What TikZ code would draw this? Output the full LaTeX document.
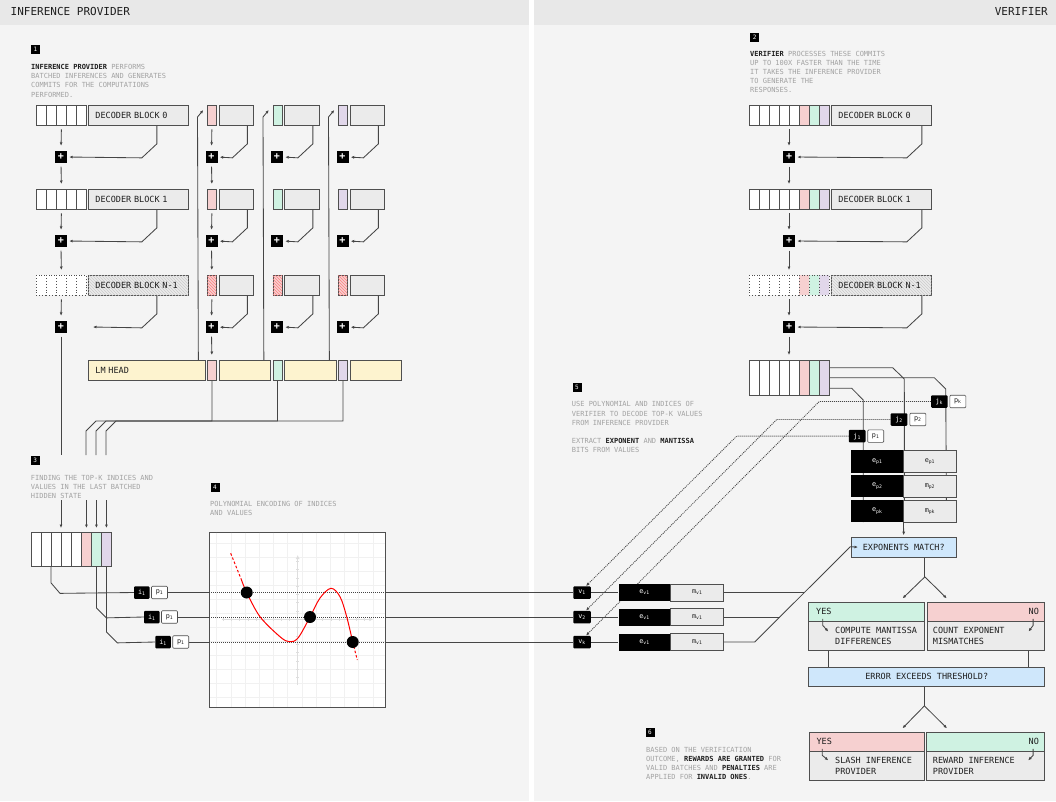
\documentclass[tikz,border=0pt]{standalone}
\usepackage{fontspec}
\setmainfont{DejaVu Sans Mono}
\usetikzlibrary{arrows.meta,positioning,patterns,calc}

\definecolor{bgc}{HTML}{F4F4F4}
\definecolor{hdrc}{HTML}{E8E8E8}
\definecolor{greyf}{HTML}{EBEBEB}
\definecolor{boxc}{HTML}{4F4F4F}
\definecolor{linec}{HTML}{454545}
\definecolor{redf}{HTML}{F6D0D0}
\definecolor{grnf}{HTML}{CFF2E2}
\definecolor{purf}{HTML}{E1D7EA}
\definecolor{yelf}{HTML}{FDF3CF}
\definecolor{bluf}{HTML}{CFE7FB}
\definecolor{txtg}{HTML}{A2A2A2}
\definecolor{txtd}{HTML}{1E1E1E}
\definecolor{gridc}{HTML}{F1F1F1}
\definecolor{axc}{HTML}{DEDEDE}

\newcommand{\lblf}{\fontsize{8.5}{10.3}\selectfont}
\newcommand{\notef}{\fontsize{7}{9.2}\selectfont}
\newcommand{\tagf}{\fontsize{6.8}{7}\selectfont}
\newcommand{\dark}[1]{\textcolor{txtd}{\textbf{#1}}}

\pgfdeclarelayer{back}
\pgfdeclarelayer{bg}
\pgfsetlayers{back,bg,main}

\tikzset{
  line/.style={draw=linec, line width=0.85pt},
  arr/.style={line, -{Latex[length=3.5pt,width=3pt]}},
  varr/.style={arr, shorten <=3.5pt, shorten >=5pt},
  darr/.style={arr, dash pattern=on 1pt off 1pt},
  cell/.style={draw=boxc, line width=0.85pt, fill=white, minimum width=10pt, minimum height=20pt, inner sep=0pt, anchor=north west},
  ccell/.style={cell, minimum width=9pt},
  gcell/.style={cell, fill=greyf, minimum width=34.5pt},
  dec/.style={draw=boxc, line width=0.85pt, fill=greyf, text width=86pt, inner xsep=7pt, inner ysep=0pt, minimum height=20pt, align=left, anchor=north west, font=\lblf, text=txtd},
  hatch/.style={postaction={pattern=north west lines, pattern color=#1}},
  plusbox/.style={fill=black, text=white, minimum size=12pt, inner sep=0pt, font=\bfseries\fontsize{10}{10}\selectfont},
  stepno/.style={fill=black, text=white, minimum size=9pt, inner sep=0pt, font=\fontsize{6}{6}\selectfont},
  note/.style={anchor=north west, inner sep=0pt, align=left, text=txtg, font=\notef},
  kbox/.style={fill=black, text=white, rounded corners=1pt, minimum width=15.5pt, minimum height=12.5pt, inner sep=0pt, font=\tagf},
  wbox/.style={draw=boxc, line width=0.6pt, fill=white, rounded corners=1pt, minimum width=16pt, minimum height=12.5pt, inner sep=0pt, font=\tagf, text=txtd},
  ebox/.style={fill=black, text=white, minimum width=52pt, minimum height=17pt, inner sep=0pt, font=\tagf, anchor=north west},
  mbox/.style={draw=boxc, line width=0.85pt, fill=greyf, text=txtd, minimum width=53pt, minimum height=17pt, inner sep=0pt, font=\tagf, anchor=north west},
  qbox/.style={draw=boxc, line width=0.85pt, fill=bluf, text=txtd, minimum height=20pt, inner sep=0pt, font=\lblf, anchor=north west},
  hbox/.style={draw=boxc, line width=0.85pt, minimum height=19.3pt, inner sep=0pt, anchor=north west},
  bbox/.style={draw=boxc, line width=0.85pt, fill=greyf, minimum height=29pt, inner sep=0pt, anchor=north west},
  btxt/.style={anchor=west, inner sep=0pt, align=left, font=\lblf, text=txtd},
  htxt/.style={inner sep=0pt, font=\lblf, text=txtd},
  dot/.style={circle, fill=black, minimum size=12pt, inner sep=0pt},
}

\begin{document}
\begin{tikzpicture}[x=1pt,y=-1pt]
\useasboundingbox (0,0) rectangle (1056,801);

% panels
\begin{pgfonlayer}{back}
\fill[white] (0,0) rectangle (1056,801);
\fill[bgc] (0,0) rectangle (529,801);
\fill[bgc] (534,0) rectangle (1056,801);
\fill[hdrc] (0,0) rectangle (529,25);
\fill[hdrc] (534,0) rectangle (1056,25);
\end{pgfonlayer}
\node[anchor=west, inner sep=0pt, font=\fontsize{11}{12}\selectfont, text=txtd] (hdrL) at (10.5,11) {INFERENCE PROVIDER};
\node[anchor=east, inner sep=0pt, font=\fontsize{11}{12}\selectfont, text=txtd] (hdrR) at (1048,11) {VERIFIER};

%%%%%%%%%%%%%%%% inference provider
\node[stepno] (s1) at (35.5,49.5) {1};
\node[note] (n1) at (31,64.2) {\dark{INFERENCE PROVIDER} PERFORMS\\BATCHED INFERENCES AND GENERATES\\COMMITS FOR THE COMPUTATIONS\\PERFORMED.};

% decoder stack
\foreach \r/\y/\s in {0/105/solid,1/189/solid,2/275/dotted}{
  \foreach \i in {0,...,4}
    \node[cell,\s] (L\r-\i) at (36+10*\i,\y) {};
}
\node[dec] (dec0) at (88,105) {DECODER BLOCK 0};
\node[dec] (dec1) at (88,189) {DECODER BLOCK 1};
\node[dec, hatch=gray!40] (dec2) at (88,275) {DECODER BLOCK N-1};
\foreach \r/\y in {0/157,1/241,2/327}
  \node[plusbox] (Lp\r) at (61,\y) {+};

\draw[varr] (L0-2.south) -- (Lp0.north);
\draw[varr] (Lp0.south) -- (L1-2.north);
\draw[varr] (L1-2.south) -- (Lp1.north);
\draw[varr] (Lp1.south) -- (L2-2.north);
\draw[varr] (L2-2.south) -- (Lp2.north);
\draw[arr, shorten >=2pt] ([xshift=-32]dec0.south east) -- ++(0,18) -- ++(-15,14) -- (Lp0.east);
\draw[arr, shorten >=2pt] ([xshift=-32]dec1.south east) -- ++(0,18) -- ++(-15,14) -- (Lp1.east);
\coordinate (Lx) at (93,327);
\draw[arr] ([xshift=-32]dec2.south east) -- ++(0,18) -- ++(-15,14) -- (Lx);

% per-column commits
\foreach \k/\x/\c in {1/207/redf,2/272.5/grnf,3/338/purf}{
  \node[ccell,fill=\c] (C\k-0) at (\x,105) {};
  \node[ccell,fill=\c] (C\k-1) at (\x,189) {};
  \node[ccell,fill=redf,hatch=red!50] (C\k-2) at (\x,275) {};
  \foreach \r/\y in {0/105,1/189,2/275}{
    \node[gcell] (G\k-\r) at (\x+11.5,\y) {};
    \node[plusbox] (P\k-\r) at (\x+4.5,\y+52) {+};
    \draw[arr, shorten >=2pt] ([xshift=-6.5]G\k-\r.south east) -- ++(0,18) -- ++(-15,14) -- (P\k-\r.east);
  }
}
\draw[varr] (C1-0.south) -- (P1-0.north);
\draw[varr] (P1-0.south) -- (C1-1.north);
\draw[varr] (C1-1.south) -- (P1-1.north);
\draw[varr] (P1-1.south) -- (C1-2.north);
\draw[varr] (C1-2.south) -- (P1-2.north);

% lm head
\node[dec, fill=yelf, text width=102pt, inner xsep=7.5pt] (lm) at (87.5,360) {LM HEAD};
\node[ccell, fill=redf] (lmr) at (207,360) {};
\node[cell, fill=yelf, minimum width=51.5pt] (ly1) at (218.5,360) {};
\node[ccell, fill=grnf] (lmg) at (272.5,360) {};
\node[cell, fill=yelf, minimum width=51.5pt] (ly2) at (284,360) {};
\node[ccell, fill=purf] (lmp) at (338,360) {};
\node[cell, fill=yelf, minimum width=51.5pt] (ly3) at (349.5,360) {};
\draw[varr] (P1-2.south) -- (lmr.north);

\draw[arr] ([xshift=-7]lm.north east) -- ([shift={(-9.5,12)}]C1-0.north west) -- ([shift={(-3.7,5)}]C1-0.north west);
\draw[arr] ([xshift=-7]ly1.north east) -- ([shift={(-9.5,12)}]C2-0.north west) -- ([shift={(-3.7,5)}]C2-0.north west);
\draw[arr] ([xshift=-7]ly2.north east) -- ([shift={(-9.5,12)}]C3-0.north west) -- ([shift={(-3.7,5)}]C3-0.north west);

\coordinate (b0) at (61,455);
\coordinate (b1) at (86,455);
\coordinate (b2) at (96,455);
\coordinate (b3) at (106,455);
\draw[line, shorten <=3.5pt] (Lp2.south) -- (b0);
\draw[line] (lmr.south) |- (96,421) -- (86,431) -- (b1);
\draw[line] (lmg.south) |- (106,421) -- (96,431) -- (b2);
\draw[line] (lmp.south) |- (116,421) -- (106,431) -- (b3);

% top-k
\node[stepno] (s3) at (35.3,460) {3};
\node[note] (n3) at (30.7,474.8) {FINDING THE TOP-K INDICES AND\\VALUES IN THE LAST BATCHED\\HIDDEN STATE};
\foreach \c [count=\i from 0] in {white,white,white,white,white,redf,grnf,purf}
  \node[cell, fill=\c, minimum height=34pt] (S\i) at (31+10*\i,532) {};
\draw[arr, shorten >=4pt] ([yshift=32]S3.north west) -- (S3.north west);
\foreach \i in {5,6,7}
  \draw[arr, shorten >=4pt] ([yshift=32]S\i.north) -- (S\i.north);

\node[kbox] (ia) at (141.75,592.5) {i\textsubscript{1}};
\node[wbox, right=1.5pt of ia] (pa) {p\textsubscript{1}};
\node[kbox] (ib) at (151.75,617) {i\textsubscript{1}};
\node[wbox, right=1.5pt of ib] (pb) {p\textsubscript{1}};
\node[kbox] (ic) at (163,642) {i\textsubscript{1}};
\node[wbox, right=1.5pt of ic] (pc) {p\textsubscript{1}};
\draw[line] (S2.south west) -- ++(0,16) -- ++(9,10.5) -- (ia.west);
\draw[line] (S6.south) -- ++(0,41) -- ++(10,10) -- (ib.west);
\draw[line] (S7.south) -- ++(0,65) -- ++(11,11) -- (ic.west);

% polynomial
\node[stepno] (s4) at (215,487.2) {4};
\node[note] (n4) at (210,500.8) {POLYNOMIAL ENCODING OF INDICES\\AND VALUES};
\node[draw=boxc, line width=0.85pt, fill=white, minimum width=176pt, minimum height=175.3pt, inner sep=0pt, anchor=north west] (plot) at (209.3,531.7) {};
\foreach \g in {0,...,11}{
  \draw[gridc, line width=0.5pt] (216.7+14.2*\g,532.5) -- ++(0,174);
  \draw[gridc, line width=0.5pt] (210,543+14*\g) -- ++(175,0);
}
\draw[axc, line width=1pt, -{Latex[length=4pt,width=4pt]}] (297.7,685) -- (297.7,555);
\draw[axc, line width=1pt, -{Latex[length=4pt,width=4pt]}] (221.7,619.3) -- (373.3,619.3);
\foreach \t in {-7,...,7}
  \draw[axc, line width=0.6pt] (296,619.3+8.3*\t) -- ++(3.4,0);
\foreach \t in {-9,...,8}
  \draw[axc, line width=0.6pt] (297.7+8.3*\t,617.6) -- ++(0,3.4);

\node[kbox, minimum width=17.5pt] (v1) at (582,592.5) {v\textsubscript{1}};
\node[kbox, minimum width=17.5pt] (v2) at (582,617) {v\textsubscript{2}};
\node[kbox, minimum width=17.5pt] (vk) at (582,642) {v\textsubscript{k}};
\foreach \a/\b in {pa/v1,pb/v2,pc/vk}{
  \draw[line] (\a.east) -- (\a.east -| plot.west);
  \draw[line, dash pattern=on 1pt off 1pt] (\a.east -| plot.west) -- (\a.east -| plot.east);
  \draw[line] (\a.east -| plot.east) -- (\b.west);
}
\draw[red, line width=1pt, dash pattern=on 2.5pt off 2pt] (230.7,553.3) -- (241.5,580);
\draw[red, line width=1pt] plot[smooth, tension=0.55] coordinates {(241.5,580) (246.7,592.5) (260,616.7) (280,636.7) (289.3,641.7) (298,638) (310,617) (320,598) (331,588.3) (340,596.7) (346.7,616.7) (352.7,642)};
\draw[red, line width=1pt, dash pattern=on 2.5pt off 2pt] (352.7,642) -- (357.3,660);
\node[dot] (d1) at (246.7,592.5) {};
\node[dot] (d2) at (310,617) {};
\node[dot] (d3) at (352.7,642) {};

%%%%%%%%%%%%%%%% verifier
\node[stepno] (s2) at (754.7,37) {2};
\node[note] (n2) at (750,50.8) {\dark{VERIFIER} PROCESSES THESE COMMITS\\UP TO 100X FASTER THAN THE TIME\\IT TAKES THE INFERENCE PROVIDER\\TO GENERATE THE\\RESPONSES.};

\foreach \r/\y/\s in {0/105/solid,1/189/solid,2/275/dotted}{
  \foreach \c [count=\i from 0] in {white,white,white,white,white,redf,grnf,purf}
    \node[cell,\s,fill=\c] (R\r-\i) at (749+10*\i,\y) {};
  \node[plusbox] (Rp\r) at (789,\y+52) {+};
}
\node[dec] (rdec0) at (831,105) {DECODER BLOCK 0};
\node[dec] (rdec1) at (831,189) {DECODER BLOCK 1};
\node[dec, hatch=gray!40] (rdec2) at (831,275) {DECODER BLOCK N-1};
\foreach \r in {0,1,2}
  \draw[arr, shorten >=2pt] ([xshift=-10]rdec\r.south east) -- ++(0,18) -- ++(-15,14) -- (Rp\r.east);
\foreach \c [count=\i from 0] in {white,white,white,white,white,redf,grnf,purf}
  \node[cell, fill=\c, minimum height=35pt] (F\i) at (749+10*\i,360) {};
\draw[varr] (R0-4.south west) -- (Rp0.north);
\draw[varr] (Rp0.south) -- (R1-4.north west);
\draw[varr] (R1-4.south west) -- (Rp1.north);
\draw[varr] (Rp1.south) -- (R2-4.north west);
\draw[varr] (R2-4.south west) -- (Rp2.north);
\draw[varr] (Rp2.south) -- (F4.north west);

% decode
\node[stepno] (s5) at (577,387.5) {5};
\node[note] (n5) at (571.7,401.5) {USE POLYNOMIAL AND INDICES OF\\VERIFIER TO DECODE TOP-K VALUES\\FROM INFERENCE PROVIDER\\[9.2pt]EXTRACT \dark{EXPONENT} AND \dark{MANTISSA}\\BITS FROM VALUES};

\node[kbox, minimum width=16.7pt] (j1) at (857.15,436.15) {j\textsubscript{1}};
\node[wbox, right=1.7pt of j1] (q1) {p\textsubscript{1}};
\node[kbox, minimum width=16.7pt] (j2) at (899,419.5) {j\textsubscript{2}};
\node[wbox, right=2pt of j2] (q2) {p\textsubscript{2}};
\node[kbox, minimum width=16.7pt] (jk) at (939.35,401.5) {j\textsubscript{k}};
\node[wbox, right=1.6pt of jk] (qk) {p\textsubscript{k}};

\node[ebox, minimum height=22.3pt] (ep1) at (851,450) {e\textsubscript{p1}};
\node[mbox, minimum height=22.3pt, minimum width=52.4pt] (mp1) at (903.3,450) {e\textsubscript{p1}};
\node[ebox, minimum height=21.7pt] (ep2) at (851,475) {e\textsubscript{p2}};
\node[mbox, minimum height=21.7pt, minimum width=52.4pt] (mp2) at (903.3,475) {m\textsubscript{p2}};
\node[ebox, minimum height=21.7pt] (epk) at (851,500) {e\textsubscript{pk}};
\node[mbox, minimum height=21.7pt, minimum width=52.4pt] (mpk) at (903.3,500) {m\textsubscript{pk}};

\begin{pgfonlayer}{bg}
\draw[line] ([shift={(5,28.3)}]F6.north west) -- (851.7,388.3) -- (863.3,400) -- ([xshift=12.3]epk.south west);
\draw[line] ([shift={(1,7.7)}]F2.north west) -- (892.7,367.7) -- (904.3,379) -- ([xshift=1]epk.south east);
\draw[line] ([shift={(4.3,17.7)}]F7.north west) -- (934.3,377.7) -- (945.7,389) -- ([xshift=-10]mpk.south east);
\end{pgfonlayer}

\draw[darr] (j1.west) -- (736.7,436.15) -- ([xshift=4]v1.north);
\draw[darr] (j2.west) -- (776.7,419.5) -- ([xshift=4]v2.north);
\draw[darr] (jk.west) -- (819.3,401.5) -- ([xshift=4]vk.north);

\foreach \n/\y in {1/592.5,2/617,k/642}{
  \node[ebox, anchor=west] (ev\n) at (618.3,\y) {e\textsubscript{v1}};
  \node[mbox, anchor=west] (mv\n) at (670.3,\y) {m\textsubscript{v1}};
  \draw[line] (v\n.east) -- (ev\n.west);
}

% checks
\node[qbox, minimum width=104.7pt] (em) at (851,536.7) {EXPONENTS MATCH?};
\draw[arr, shorten >=1.5pt] (epk.south east) -- (em.north);
\draw[line] (mv1.east) -- (804.2,592.5);
\draw[line] (mv2.east) -- (779.7,617);
\draw[arr] (mvk.east) -- (754.7,642) -- (850.3,546.7) -- ([xshift=7]em.west);

\draw[line] ([xshift=-31.7]em.south east) -- ++(0,19.3) coordinate (k1);
\node[hbox, fill=grnf, minimum width=116pt] (yh) at (808.3,601.7) {};
\node[htxt, anchor=west] (yt) at ([xshift=7.7]yh.west) {YES};
\node[hbox, fill=redf, minimum width=117.6pt] (nh) at (926.7,601.7) {};
\node[htxt, anchor=east] (nt) at ([xshift=-6]nh.east) {NO};
\node[bbox, minimum width=116pt] (yb) at (808.3,621) {};
\node[btxt] (ybt) at ([xshift=26.7]yb.west) {COMPUTE MANTISSA\\DIFFERENCES};
\node[bbox, minimum width=117.6pt] (nb) at (926.7,621) {};
\node[btxt] (nbt) at ([xshift=6]nb.west) {COUNT EXPONENT\\MISMATCHES};
\draw[arr, shorten >=4.8pt] (k1) -- ([xshift=-26]yh.north east);
\draw[arr, shorten >=4.8pt] (k1) -- ([xshift=23.4]nh.north west);
\draw[arr] ([shift={(14.4,-3)}]yh.south west) -- ++(0,6.5) -- ++(5.6,6.2);
\draw[arr] ([shift={(-12,-3)}]nh.south east) -- ++(0,6.5) -- ++(-4.6,6.2);

\node[qbox, minimum width=236pt, minimum height=19.3pt] (err) at (808.3,666.7) {ERROR EXCEEDS THRESHOLD?};
\draw[line] ([xshift=20]yb.south west) -- ([xshift=20]err.north west);
\draw[line] ([xshift=-16.6]nb.south east) -- ([xshift=-16.6]err.north east);
\draw[line] ([xshift=-2.3]err.south) -- ++(0,19) coordinate (k2);

\node[hbox, fill=redf, minimum width=115.3pt] (sh) at (808.7,731.7) {};
\node[htxt, anchor=west] (st) at ([xshift=7.7]sh.west) {YES};
\node[hbox, fill=grnf, minimum width=118.3pt] (rh) at (926,731.7) {};
\node[htxt, anchor=east] (rt) at ([xshift=-6]rh.east) {NO};
\node[bbox, minimum width=115.3pt] (sb) at (808.7,751) {};
\node[btxt] (sbt) at ([xshift=26.3]sb.west) {SLASH INFERENCE\\PROVIDER};
\node[bbox, minimum width=118.3pt] (rb) at (926,751) {};
\node[btxt] (rbt) at ([xshift=6.7]rb.west) {REWARD INFERENCE\\PROVIDER};
\draw[arr, shorten >=4.8pt] (k2) -- ([xshift=-25.7]sh.north east);
\draw[arr, shorten >=4.8pt] (k2) -- ([xshift=24.4]rh.north west);
\draw[arr] ([shift={(13.6,-3)}]sh.south west) -- ++(0,6.5) -- ++(6,5);
\draw[arr] ([shift={(-12,-3)}]rh.south east) -- ++(0,6.5) -- ++(-5,5);

% outcome
\node[stepno] (s6) at (650,732.7) {6};
\node[note] (n6) at (646,746.8) {BASED ON THE VERIFICATION\\OUTCOME, \dark{REWARDS ARE GRANTED} FOR\\VALID BATCHES AND \dark{PENALTIES} ARE\\APPLIED FOR \dark{INVALID ONES}.};
\end{tikzpicture}
\end{document}
